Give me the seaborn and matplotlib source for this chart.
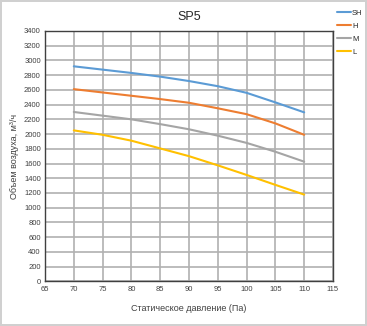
import matplotlib
matplotlib.use('Agg')
import matplotlib.pyplot as plt
import pandas as pd
import seaborn as sns

pressure = [70, 75, 80, 85, 90, 95, 100, 105, 110]
sh = [2920, 2875, 2830, 2780, 2720, 2650, 2560, 2430, 2295]
h = [2610, 2565, 2520, 2475, 2425, 2350, 2270, 2145, 1990]
m = [2300, 2250, 2200, 2135, 2065, 1978, 1880, 1760, 1625]
l = [2050, 1990, 1910, 1805, 1700, 1575, 1445, 1310, 1178]

series = ['SH', 'H', 'M', 'L']
colors = ['#5b9bd5', '#ed7d31', '#a5a5a5', '#ffc000']

df = pd.DataFrame({'pressure': pressure, 'SH': sh, 'H': h, 'M': m, 'L': l})
long = df.melt(id_vars='pressure', var_name='series', value_name='flow')

sns.set_style('white')
plt.rcParams['font.family'] = ['Liberation Sans', 'DejaVu Sans']

fig = plt.figure(figsize=(3.67, 3.26), dpi=100)
fig.patch.set_edgecolor('#d0d0d0')
fig.patch.set_linewidth(1.5)
ax = fig.add_axes([0.1226, 0.137, 0.7847, 0.768])

sns.lineplot(data=long, x='pressure', y='flow', hue='series', hue_order=series,
             palette=colors, linewidth=1.5, ax=ax, legend=False)

ax.set_xlim(65, 115)
ax.set_ylim(0, 3400)
ax.set_xticks(range(65, 116, 5))
ax.set_yticks(range(0, 3401, 200))
ax.grid(True, color='#b0b0b0', linewidth=1.2)
ax.set_axisbelow(True)
for sp in ax.spines.values():
    sp.set_color('#404040')
    sp.set_linewidth(1.0)
ax.tick_params(labelsize=5.5, length=0, pad=3, colors='#404040')

ax.set_title('SP5', fontsize=9, pad=8)
ax.set_xlabel('Статическое давление (Па)', fontsize=6.5, labelpad=8, color='#404040')
ax.set_ylabel('Объем воздуха, м³/ч', fontsize=6.5, labelpad=4, color='#404040')

handles = [plt.Line2D([], [], color=c, linewidth=1.5) for c in colors]
fig.legend(handles, series, loc='upper left', bbox_to_anchor=(0.918, 0.97),
           frameon=False, fontsize=5.5, handlelength=1.9, handletextpad=0.1,
           labelspacing=0.72, borderaxespad=0, borderpad=0)

fig.savefig('out.png', dpi=100)
